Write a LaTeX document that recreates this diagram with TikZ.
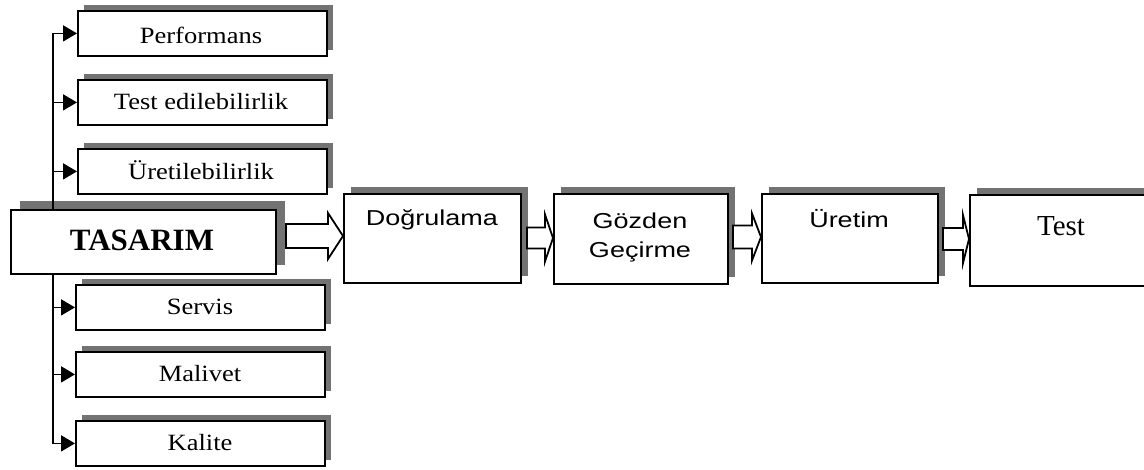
\documentclass[tikz,border=0pt]{standalone}
\usepackage{fontspec}
\setmainfont{Liberation Serif}
\setsansfont{Liberation Sans}
\usepackage{graphicx}
\usetikzlibrary{calc,shadows,arrows.meta}
\newcommand{\sqz}[2]{\scalebox{1}[#1]{#2}}
\tikzset{
  shd/.style={general shadow={fill=black!55, shadow xshift=#1, shadow yshift=#1}},
  box/.style={draw=black, line width=1.8pt, fill=white, rectangle, inner sep=0pt, anchor=north west},
  sbox/.style={box, shd=6pt, minimum width=249pt, minimum height=45pt},
  stxt/.style={font=\fontsize{26.5}{30}\selectfont, inner sep=0pt},
  ptxt/.style={font=\sffamily\fontsize{27}{31}\selectfont, inner sep=0pt, align=center},
  tree/.style={line width=1.8pt, -{Triangle[length=14pt,width=16pt]}},
  barrow/.style={draw=black, line width=1.8pt, fill=white, line join=miter}
}
\newcommand{\blockarr}[5]{%
  \path (#2 |- #1) coordinate (tip);
  \draw[barrow] ($(#1)+(0,-#3)$) -- ($(tip)+(-#5,-#3)$) -- ($(tip)+(-#5,-#4)$) -- (tip)
    -- ($(tip)+(-#5,#4)$) -- ($(tip)+(-#5,#3)$) -- ($(#1)+(0,#3)$) -- cycle;}
\begin{document}
\begin{tikzpicture}[x=1pt,y=-1pt]
\useasboundingbox (0,0) rectangle (1144,469);
\clip (0,0) rectangle (1144,469);
% left boxes
\node[sbox] (perf) at (77,10) {};
\node[stxt] (perft) at (201,35) {\sqz{0.88}{Performans}};
\node[sbox] (test) at (77,79) {};
\node[stxt] (testt) at (201,102) {\sqz{0.88}{Test edilebilirlik}};
\node[sbox] (uret) at (77,148) {};
\node[stxt] (urett) at (201,170) {\sqz{0.88}{Üretilebilirlik}};
\node[sbox] (serv) at (75,284) {};
\node[stxt] (servt) at (200,307) {\sqz{0.88}{Servis}};
\node[sbox] (mali) at (75,351) {};
\node[stxt] (malit) at (200,374) {\sqz{0.88}{Malivet}};
\node[sbox] (kal) at (75,420) {};
\node[stxt] (kalt) at (200,443) {\sqz{0.88}{Kalite}};
% TASARIM
\node[box, shd=9pt, minimum width=265pt, minimum height=64pt] (tas) at (10,209) {};
\node[inner sep=0pt, font=\bfseries\fontsize{31}{34}\selectfont] (tast) at (142,240) {TASARIM};
% tree connectors
\coordinate (tup) at (53,209);
\coordinate (tdn) at (53,273);
\draw[tree] (tup) |- (perf.west);
\draw[tree] (tup) |- (test.west);
\draw[tree] (tup) |- (uret.west);
\draw[tree] (tdn) |- (serv.west);
\draw[tree] (tdn) |- (mali.west);
\draw[tree] (tdn) |- (kal.west);
% process boxes
\node[box, shd=7pt, minimum width=177pt, minimum height=89pt] (dog) at (343,193) {};
\node[ptxt] (dogt) at (432,220) {\sqz{0.8}{Doğrulama}};
\node[box, shd=7pt, minimum width=174pt, minimum height=90pt] (goz) at (553,193) {};
\node[ptxt] (gozt) at (640,237) {\sqz{0.8}{Gözden}\\[-2pt]\sqz{0.8}{Geçirme}};
\node[box, shd=7pt, minimum width=176pt, minimum height=89pt] (ure) at (761,193) {};
\node[ptxt] (uret2) at (849,219) {\sqz{0.8}{Üretim}};
\node[box, shd=7pt, minimum width=200pt, minimum height=91pt] (tst) at (969,194) {};
\node[inner sep=0pt, font=\fontsize{29}{32}\selectfont] (tstt) at (1061,226) {Test};
% block arrows
\coordinate (a1) at (286,236);
\blockarr{a1}{dog.west}{12}{23}{15}
\coordinate (a2) at (527,238);
\blockarr{a2}{goz.west}{10.5}{23.5}{8}
\coordinate (a3) at (733,237);
\blockarr{a3}{ure.west}{11.5}{23.5}{9}
\coordinate (a4) at (943,239);
\blockarr{a4}{tst.west}{11}{24}{6}
\end{tikzpicture}
\end{document}
